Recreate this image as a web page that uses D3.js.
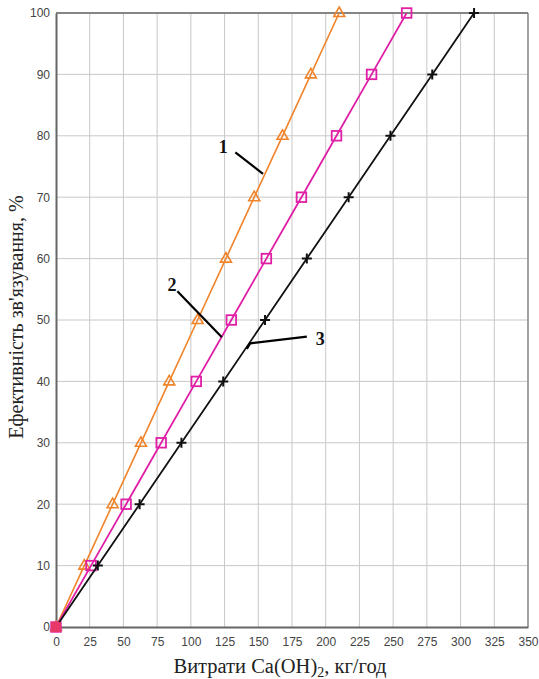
<!DOCTYPE html>
<html>
<head>
<meta charset="utf-8">
<script src="https://cdn.jsdelivr.net/npm/d3@7"></script>
<style>
  body { margin: 0; background: #fff; }
  .tick text { font-family: "Liberation Sans", Arial, sans-serif; font-size: 12px; fill: #444; }
</style>
</head>
<body>
<svg id="chart" width="539" height="679"></svg>
<script>
// efficiency levels, %
const efficiency = [0, 10, 20, 30, 40, 50, 60, 70, 80, 90, 100];
// Ca(OH)2 consumption, kg/h, for curves 1, 2, 3
const series1 = [0, 21, 42, 63, 84, 105, 126, 147, 168, 189, 210];
const series2 = [0, 26, 52, 78, 104, 130, 156, 182, 208, 234, 260];
const series3 = [0, 31, 62, 93, 124, 155, 186, 217, 248, 279, 310];
const xTicks = d3.range(0, 351, 25);
const yTicks = d3.range(0, 101, 10);
// curve labels: [name, x, y] and leader lines in data units
const labels = [["1", 124, 78.3], ["2", 86, 55.8], ["3", 196, 47]];
const leaders = [
  [[133, 77.3], [153.5, 73.8]],
  [[90, 54.7], [123, 47.2]],
  [[186, 47.3], [144, 46.2], [141.5, 45.3]]
];

const svg = d3.select("#chart");
const margin = {top: 13, right: 11, bottom: 52, left: 56};
const width = 539 - margin.left - margin.right;
const height = 679 - margin.top - margin.bottom;
const g = svg.append("g").attr("transform", `translate(${margin.left},${margin.top})`);

const x = d3.scaleLinear().domain([0, 350]).range([0, width]);
const y = d3.scaleLinear().domain([0, 100]).range([height, 0]);

// grid
g.append("g").selectAll("line").data(xTicks.slice(1))
  .join("line")
  .attr("x1", d => x(d)).attr("x2", d => x(d))
  .attr("y1", 0).attr("y2", height)
  .attr("stroke", "#c8c8c8").attr("stroke-width", 1);
g.append("g").selectAll("line").data(yTicks.slice(1))
  .join("line")
  .attr("x1", 0).attr("x2", width)
  .attr("y1", d => y(d)).attr("y2", d => y(d))
  .attr("stroke", "#c8c8c8").attr("stroke-width", 1);

// frame
g.append("line").attr("x1", 0).attr("x2", width).attr("y1", 0).attr("y2", 0)
  .attr("stroke", "#666").attr("stroke-width", 1.5);
g.append("line").attr("x1", width).attr("x2", width).attr("y1", 0).attr("y2", height)
  .attr("stroke", "#777").attr("stroke-width", 1.2);

// axes
const xAxis = g.append("g").attr("transform", `translate(0,${height})`)
  .call(d3.axisBottom(x).tickValues(xTicks).tickSize(0).tickPadding(10));
xAxis.select(".domain").attr("stroke", "#666").attr("stroke-width", 2);
const yAxis = g.append("g")
  .call(d3.axisLeft(y).tickValues(yTicks).tickSize(0).tickPadding(6));
yAxis.select(".domain").attr("stroke", "#666").attr("stroke-width", 2);

const line = d3.line().x(d => x(d[0])).y(d => y(d[1]));

const curves = [
  {data: series1, color: "#f0842a", w: 1.6, marker: "triangle"},
  {data: series2, color: "#e01fa6", w: 1.8, marker: "square"},
  {data: series3, color: "#111", w: 1.8, marker: "plus"}
];

curves.forEach(c => {
  const pts = c.data.map((v, i) => [v, efficiency[i]]);
  g.append("path").datum(pts)
    .attr("fill", "none").attr("stroke", c.color).attr("stroke-width", c.w)
    .attr("d", line);
  const m = g.append("g").selectAll("g").data(pts).join("g")
    .attr("transform", d => `translate(${x(d[0])},${y(d[1])})`);
  if (c.marker === "triangle") {
    m.append("path").attr("d", "M0,-6L5.5,3.5L-5.5,3.5Z")
      .attr("fill", "none").attr("stroke", c.color).attr("stroke-width", 1.6);
  } else if (c.marker === "square") {
    m.append("rect").attr("x", -4.8).attr("y", -4.8).attr("width", 9.6).attr("height", 9.6)
      .attr("fill", "none").attr("stroke", c.color).attr("stroke-width", 1.8);
  } else {
    m.append("path").attr("d", "M-5,0H5M0,-5V5")
      .attr("stroke", c.color).attr("stroke-width", 2);
  }
});

// origin marker
g.append("rect").attr("x", x(0) - 5).attr("y", y(0) - 5).attr("width", 10).attr("height", 10)
  .attr("fill", "#e8386a");

// curve labels
g.selectAll("text.lbl").data(labels).join("text")
  .attr("class", "lbl")
  .attr("x", d => x(d[1])).attr("y", d => y(d[2]))
  .attr("dy", "0.35em").attr("text-anchor", "middle")
  .attr("font-family", "'Liberation Serif', 'Times New Roman', serif")
  .attr("font-weight", "bold").attr("font-size", 18).attr("fill", "#111")
  .text(d => d[0]);
g.selectAll("path.leader").data(leaders).join("path")
  .attr("class", "leader").attr("fill", "none")
  .attr("stroke", "#000").attr("stroke-width", 2.2)
  .attr("d", d => line(d));

// axis titles
const xt = svg.append("text")
  .attr("x", 280).attr("y", 673).attr("text-anchor", "middle")
  .attr("font-family", "'Liberation Serif', 'Times New Roman', serif")
  .attr("font-size", 20.5).attr("fill", "#222");
xt.append("tspan").text("Витрати Ca(OH)");
xt.append("tspan").attr("font-size", 14).attr("dy", 4).text("2");
xt.append("tspan").attr("dy", -4).text(", кг/год");

svg.append("text")
  .attr("transform", `translate(23,${margin.top + height / 2 - 3}) rotate(-90)`)
  .attr("text-anchor", "middle")
  .attr("font-family", "'Liberation Serif', 'Times New Roman', serif")
  .attr("font-size", 20).attr("fill", "#222")
  .text("Ефективність зв'язування, %");
</script>
</body>
</html>
